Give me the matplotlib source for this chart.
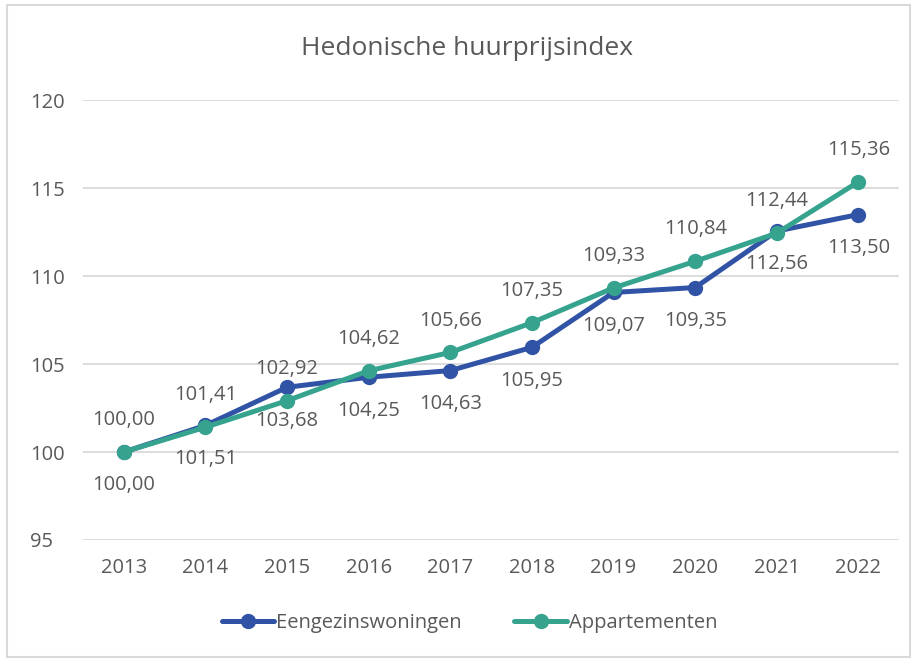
import matplotlib.pyplot as plt
from matplotlib.patches import Rectangle

# Data
jaren = ['2013', '2014', '2015', '2016', '2017', '2018', '2019', '2020', '2021', '2022']
eengezins = [100.00, 101.51, 103.68, 104.25, 104.63, 105.95, 109.07, 109.35, 112.56, 113.50]
appartementen = [100.00, 101.41, 102.92, 104.62, 105.66, 107.35, 109.33, 110.84, 112.44, 115.36]

blauw = '#3153a5'
groen = '#36a38f'
tekst = '#595959'

plt.rcParams['font.family'] = ['Open Sans', 'DejaVu Sans']

fig = plt.figure(figsize=(9.12, 6.59), dpi=100)
ax = fig.add_axes([0.091, 0.1806, 0.895, 0.6674])

x = list(range(len(jaren)))
ax.plot(x, eengezins, color=blauw, lw=3.6, marker='o', ms=10, label='Eengezinswoningen',
        solid_capstyle='round', zorder=3)
ax.plot(x, appartementen, color=groen, lw=3.6, marker='o', ms=10, label='Appartementen',
        solid_capstyle='round', zorder=4)

def fmt(v):
    return f'{v:.2f}'.replace('.', ',')

for xi, v in zip(x, eengezins):
    ax.annotate(fmt(v), (xi, v), xytext=(0, -24), textcoords='offset points',
                ha='center', va='center', fontsize=14.5, color=tekst)
for xi, v in zip(x, appartementen):
    ax.annotate(fmt(v), (xi, v), xytext=(0, 23), textcoords='offset points',
                ha='center', va='center', fontsize=14.5, color=tekst)

ax.set_xlim(-0.5, 9.5)
ax.set_ylim(95, 120)
ax.set_yticks([95, 100, 105, 110, 115, 120])
ax.set_xticks(x)
ax.set_xticklabels(jaren)
ax.tick_params(length=0, labelsize=14.5, labelcolor=tekst, pad=13)
ax.tick_params(axis='y', pad=38)
for lbl in ax.get_yticklabels():
    lbl.set_horizontalalignment('left')
ax.grid(axis='y', color='#d9d9d9', lw=1.3)
ax.set_axisbelow(True)
for s in ax.spines.values():
    s.set_visible(False)

fig.text(0.512, 0.927, 'Hedonische huurprijsindex', ha='center', va='center',
         fontsize=19, color=tekst)

leg = fig.legend(loc='center', bbox_to_anchor=(0.515, 0.054), ncol=2, frameon=False,
                 fontsize=14.5, handlelength=2.6, handletextpad=0.1, columnspacing=2.6)
for t in leg.get_texts():
    t.set_color(tekst)

fig.patches.append(Rectangle((0.008, 0.003), 0.99, 0.99, transform=fig.transFigure,
                             fill=False, edgecolor='#d9d9d9', lw=1.5))

fig.savefig('out.png', dpi=100)
